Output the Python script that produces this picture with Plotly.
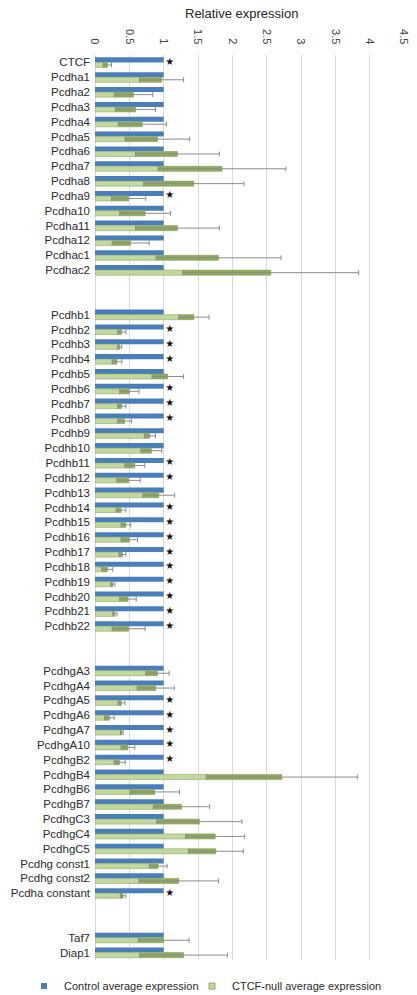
import plotly.graph_objects as go

# Gene groups (a blank spacer separates consecutive groups on the axis)
alpha_genes = ["CTCF", "Pcdha1", "Pcdha2", "Pcdha3", "Pcdha4", "Pcdha5", "Pcdha6",
               "Pcdha7", "Pcdha8", "Pcdha9", "Pcdha10", "Pcdha11", "Pcdha12",
               "Pcdhac1", "Pcdhac2"]
beta_genes = ["Pcdhb%d" % i for i in range(1, 23)]
gamma_genes = ["PcdhgA3", "PcdhgA4", "PcdhgA5", "PcdhgA6", "PcdhgA7", "PcdhgA10",
               "PcdhgB2", "PcdhgB4", "PcdhgB6", "PcdhgB7", "PcdhgC3", "PcdhgC4",
               "PcdhgC5", "Pcdhg const1", "Pcdhg const2", "Pcdha constant"]
reference_genes = ["Taf7", "Diap1"]

# CTCF-null average expression relative to control
alpha_null = [0.18, 0.97, 0.56, 0.59, 0.69, 0.91, 1.20, 1.85, 1.44, 0.49, 0.73,
              1.20, 0.52, 1.80, 2.56]
beta_null = [1.44, 0.39, 0.36, 0.32, 1.06, 0.50, 0.39, 0.43, 0.80, 0.82, 0.58,
             0.49, 0.93, 0.38, 0.45, 0.50, 0.40, 0.18, 0.26, 0.48, 0.29, 0.49]
gamma_null = [0.91, 0.885, 0.385, 0.21, 0.39, 0.48, 0.36, 2.72, 0.87, 1.26, 1.52,
              1.75, 1.76, 0.92, 1.22, 0.41]
reference_null = [1.00, 1.29]

# Error (standard deviation) of the CTCF-null values
alpha_err = [0.06, 0.32, 0.28, 0.29, 0.35, 0.47, 0.61, 0.93, 0.73, 0.25, 0.37,
             0.61, 0.27, 0.91, 1.28]
beta_err = [0.22, 0.06, 0.03, 0.07, 0.23, 0.14, 0.06, 0.10, 0.08, 0.15, 0.145,
            0.17, 0.23, 0.07, 0.07, 0.12, 0.05, 0.08, 0.03, 0.12, 0.03, 0.24]
gamma_err = [0.17, 0.27, 0.05, 0.07, 0.02, 0.10, 0.08, 1.10, 0.36, 0.41, 0.62,
             0.43, 0.40, 0.13, 0.58, 0.04]
reference_err = [0.37, 0.64]

# Control is the normalisation reference
control_value = 1.0

# Genes marked as significantly changed
significant = ["CTCF", "Pcdha9", "Pcdhb2", "Pcdhb3", "Pcdhb4", "Pcdhb6", "Pcdhb7",
               "Pcdhb8", "Pcdhb11", "Pcdhb12", "Pcdhb14", "Pcdhb15", "Pcdhb16",
               "Pcdhb17", "Pcdhb18", "Pcdhb19", "Pcdhb20", "Pcdhb21", "Pcdhb22",
               "PcdhgA5", "PcdhgA6", "PcdhgA7", "PcdhgA10", "PcdhgB2",
               "Pcdha constant"]

x_ticks = [0, 0.5, 1, 1.5, 2, 2.5, 3, 3.5, 4, 4.5]
x_tick_labels = ["0", "0.5", "1", "1.5", "2", "2.5", "3", "3.5", "4", "4.5"]

# ---- assemble rows with two-row spacers between groups ----
groups = [
    (alpha_genes, alpha_null, alpha_err),
    (beta_genes, beta_null, beta_err),
    (gamma_genes, gamma_null, gamma_err),
    (reference_genes, reference_null, reference_err),
]
SPACER = 2
names, pos, null_vals, null_errs = [], [], [], []
row = 0
for gi, (g_names, g_vals, g_errs) in enumerate(groups):
    if gi > 0:
        row += SPACER
    for n, v, e in zip(g_names, g_vals, g_errs):
        names.append(n)
        pos.append(row)
        null_vals.append(v)
        null_errs.append(e)
        row += 1
n_rows = row

BLUE = "#4a7ebb"
GREEN_LIGHT = "#c3d89f"
GREEN_DARK = "#8fa95f"
TEXT = "#2a2a2a"
TICK = "#404040"
GRID = "#d9d9d9"
FONT = "Arial, Liberation Sans, sans-serif"

fig = go.Figure()

fig.add_trace(go.Bar(
    name="Control average expression",
    y=pos, x=[control_value] * len(pos), orientation="h",
    offsetgroup="control",
    marker=dict(color=BLUE, line=dict(width=0)),
    hovertext=names, showlegend=False,
))

fig.add_trace(go.Bar(
    name="CTCF-null average expression",
    y=pos, x=null_vals, orientation="h",
    offsetgroup="null",
    marker=dict(color=GREEN_LIGHT, line=dict(color=GREEN_DARK, width=0.6)),
    hovertext=names, showlegend=False,
))

# darker shading of the green bar over its lower error range, with error bars
fig.add_trace(go.Bar(
    y=pos,
    x=null_errs,
    base=[v - e for v, e in zip(null_vals, null_errs)],
    orientation="h",
    offsetgroup="null",
    marker=dict(color=GREEN_DARK, line=dict(width=0)),
    error_x=dict(type="data", array=null_errs, symmetric=True,
                 color="#8c8c8c", thickness=1, width=2.5),
    showlegend=False,
    hoverinfo="skip",
))

# significance stars next to the control bars
sig_pos = [p for n, p in zip(names, pos) if n in significant]
fig.add_trace(go.Scatter(
    x=[control_value + 0.09] * len(sig_pos), y=sig_pos,
    mode="text", text=["★"] * len(sig_pos),
    textfont=dict(size=10, color="#111111", family="DejaVu Sans"),
    textposition="middle center",
    showlegend=False, hoverinfo="skip",
))

# legend keys (small square swatches), one legend per series
fig.add_trace(go.Scatter(
    x=[None], y=[None], mode="markers", name="Control average expression",
    marker=dict(symbol="square", size=6, color=BLUE, line=dict(width=0)),
    legend="legend", showlegend=True,
))
fig.add_trace(go.Scatter(
    x=[None], y=[None], mode="markers", name="CTCF-null average expression",
    marker=dict(symbol="square", size=6, color=GREEN_LIGHT,
                line=dict(color=GREEN_DARK, width=1)),
    legend="legend2", showlegend=True,
))

legend_common = dict(
    orientation="h", xref="container", yref="container",
    y=0.009, yanchor="middle", xanchor="left",
    font=dict(size=11, color=TEXT), itemwidth=30,
    bgcolor="rgba(0,0,0,0)",
)

fig.update_layout(
    width=417, height=995,
    margin=dict(l=95, r=7, t=55, b=35),
    paper_bgcolor="white", plot_bgcolor="white",
    barmode="group", bargap=0.32, bargroupgap=0,
    font=dict(family=FONT, size=11, color=TEXT),
    showlegend=True,
    legend=dict(x=24 / 417, **legend_common),
    legend2=dict(x=192 / 417, **legend_common),
    xaxis=dict(
        side="top", range=[0, 4.5], tickvals=x_ticks, ticktext=x_tick_labels,
        tickangle=90, showgrid=True, gridcolor=GRID, gridwidth=1,
        zeroline=True, zerolinecolor=GRID, zerolinewidth=1,
        showline=False, ticks="", tickfont=dict(size=11, color=TICK),
        ticklabelstandoff=8, fixedrange=True,
    ),
    yaxis=dict(
        range=[n_rows - 0.5, -0.5], tickvals=pos, ticktext=names,
        showgrid=False, zeroline=False, showline=False, ticks="",
        tickfont=dict(size=11.5, color=TEXT), ticklabelstandoff=4,
        fixedrange=True,
    ),
    annotations=[dict(
        text="Relative expression", xref="paper", yref="paper",
        x=0.473, y=1.046, xanchor="center", yanchor="middle",
        showarrow=False, font=dict(size=13, color="#262626"),
    )],
)

fig.write_html("out.html")
